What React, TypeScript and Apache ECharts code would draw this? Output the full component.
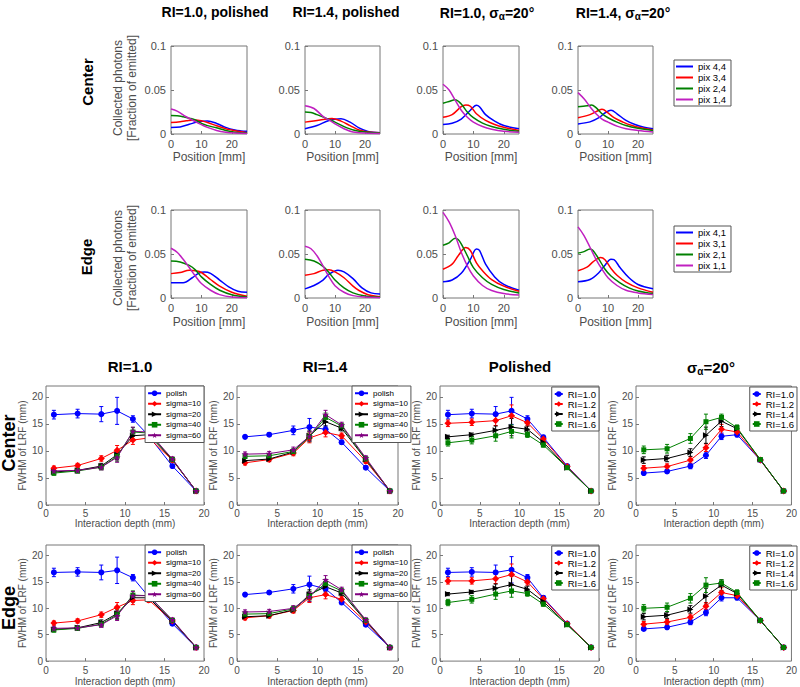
import React, { useEffect, useRef } from 'react';
import * as echarts from 'echarts';

// ---------- Top panels: collected photons vs position [mm] ----------
// Center row, RI=1.0 polished
const cA_b = [[0,0.0075],[3,0.008],[6,0.011],[9,0.014],[12,0.0147],[15,0.012],[18,0.0075],[21,0.0045],[23,0.0035],[25,0.003]];
const cA_r = [[0,0.013],[3,0.014],[5,0.015],[8,0.016],[10,0.015],[12,0.013],[15,0.0094],[18,0.006],[20,0.0045],[22,0.003],[25,0.0015]];
const cA_g = [[0,0.021],[2,0.0208],[4,0.0196],[6,0.018],[8,0.016],[10,0.012],[12,0.0095],[15,0.007],[18,0.004],[21,0.002],[25,0.001]];
const cA_m = [[0,0.0283],[2,0.026],[5,0.0196],[8,0.014],[10,0.0106],[12,0.0075],[15,0.004],[18,0.002],[21,0.001],[25,0.0005]];
// Center row, RI=1.4 polished
const cB_b = [[0,0.006],[4,0.0096],[8,0.0154],[12,0.0173],[15,0.0135],[18,0.007],[21,0.003],[25,0.0015]];
const cB_r = [[0,0.0135],[5,0.016],[9,0.0175],[12,0.0146],[15,0.0096],[18,0.0046],[22,0.002],[25,0.0015]];
const cB_g = [[0,0.025],[2,0.0245],[4,0.022],[8,0.0165],[10,0.0135],[14,0.007],[18,0.003],[25,0.001]];
const cB_m = [[0,0.032],[3,0.029],[6,0.02],[8,0.016],[10,0.0115],[13,0.006],[16,0.0023],[20,0.001],[25,0.0005]];
// Center row, RI=1.0 sigma=20
const cC_b = [[0,0.0108],[3,0.0123],[6,0.017],[9,0.027],[11,0.0327],[12,0.031],[14,0.022],[17,0.0146],[20,0.0096],[25,0.006]];
const cC_r = [[0,0.019],[3,0.022],[6,0.031],[7.5,0.033],[9,0.0315],[11,0.023],[14,0.0154],[17,0.0108],[20,0.0077],[25,0.004]];
const cC_g = [[0,0.035],[2,0.037],[4,0.039],[6,0.034],[8,0.025],[10,0.0185],[13,0.0123],[16,0.0085],[20,0.0054],[25,0.003]];
const cC_m = [[0,0.0565],[2,0.05],[4,0.0385],[6,0.027],[8,0.019],[10,0.0135],[13,0.0085],[16,0.0054],[20,0.003],[25,0.002]];
// Center row, RI=1.4 sigma=20
const cD_b = [[0,0.0115],[4,0.0138],[7,0.0185],[9,0.024],[11,0.027],[13,0.023],[16,0.0154],[19,0.0108],[22,0.0077],[25,0.006]];
const cD_r = [[0,0.0185],[4,0.022],[7,0.027],[8,0.028],[10,0.024],[12,0.0185],[15,0.0135],[18,0.0096],[21,0.007],[25,0.0046]];
const cD_g = [[0,0.031],[3,0.032],[4.5,0.033],[6,0.03],[8,0.023],[10,0.0185],[13,0.0135],[16,0.0096],[20,0.0065],[25,0.004]];
const cD_m = [[0,0.047],[2,0.04],[4,0.031],[6,0.023],[8,0.017],[10,0.0135],[13,0.009],[16,0.006],[20,0.004],[25,0.0023]];
// Edge row, RI=1.0 polished
const eA_b = [[0,0.0173],[4,0.0173],[7,0.023],[9,0.028],[11,0.0296],[13,0.028],[16,0.0204],[19,0.0127],[22,0.0077],[25,0.0065]];
const eA_r = [[0,0.0277],[3,0.029],[6,0.0315],[8,0.031],[10,0.029],[13,0.021],[16,0.0135],[20,0.0065],[25,0.002]];
const eA_g = [[0,0.042],[3,0.041],[6,0.037],[8,0.032],[10,0.024],[13,0.0154],[16,0.0088],[20,0.0038],[25,0.001]];
const eA_m = [[0,0.0565],[2,0.052],[4,0.044],[6,0.0346],[8,0.025],[10,0.0165],[13,0.0088],[16,0.0038],[20,0.001],[25,0.0004]];
// Edge row, RI=1.4 polished
const eB_b = [[0,0.0104],[3,0.0142],[6,0.0204],[8,0.027],[11,0.0315],[13,0.0296],[16,0.022],[19,0.0115],[22,0.0058],[25,0.0046]];
const eB_r = [[0,0.0258],[3,0.0277],[6,0.0315],[8,0.032],[10,0.0296],[13,0.023],[16,0.0135],[18,0.0085],[21,0.0038],[25,0.0015]];
const eB_g = [[0,0.044],[3,0.042],[6,0.036],[8,0.029],[10,0.0204],[13,0.0115],[16,0.0058],[20,0.0023],[25,0.0008]];
const eB_m = [[0,0.0588],[2,0.056],[4,0.048],[6,0.0365],[8,0.024],[10,0.014],[13,0.0065],[16,0.0027],[20,0.001],[25,0.0004]];
// Edge row, RI=1.0 sigma=20
const eC_b = [[0,0.0185],[3,0.0204],[6,0.028],[9,0.044],[11,0.0558],[12,0.054],[14,0.0385],[17,0.024],[20,0.0154],[25,0.0088]];
const eC_r = [[0,0.0327],[3,0.0385],[5,0.048],[7.5,0.0573],[9,0.054],[11,0.04],[13,0.031],[16,0.021],[20,0.0135],[25,0.0077]];
const eC_g = [[0,0.06],[2,0.0627],[4,0.068],[5,0.0665],[6,0.0615],[8,0.048],[10,0.0346],[13,0.023],[16,0.0154],[20,0.0096],[25,0.0058]];
const eC_m = [[0,0.0973],[2,0.0865],[4,0.071],[6,0.052],[8,0.0365],[10,0.025],[13,0.0142],[16,0.0085],[20,0.005],[25,0.0035]];
// Edge row, RI=1.4 sigma=20
const eD_b = [[0,0.0185],[4,0.021],[7,0.029],[9,0.0373],[11,0.044],[12,0.0435],[14,0.0346],[17,0.023],[20,0.0154],[25,0.0104]];
const eD_r = [[0,0.031],[3,0.035],[5,0.041],[7.5,0.046],[9,0.0435],[11,0.0335],[13,0.0258],[16,0.018],[20,0.0115],[25,0.0065]];
const eD_g = [[0,0.051],[2,0.0527],[4,0.0558],[5,0.054],[7,0.044],[9,0.0327],[11,0.025],[14,0.0173],[17,0.0115],[20,0.008],[25,0.005]];
const eD_m = [[0,0.0808],[2,0.071],[4,0.0577],[6,0.044],[8,0.0327],[10,0.023],[13,0.0142],[16,0.0088],[20,0.0058],[25,0.004]];

const centerNames = ['pix 4,4', 'pix 3,4', 'pix 2,4', 'pix 1,4'];
const edgeNames = ['pix 4,1', 'pix 3,1', 'pix 2,1', 'pix 1,1'];

// ---------- Bottom panels: FWHM of LRF vs interaction depth ----------
const depth = [1, 4, 7, 9, 11, 13, 16, 19];
const sigmaNames = ['polish', 'sigma=10', 'sigma=20', 'sigma=40', 'sigma=60'];
const riNames = ['RI=1.0', 'RI=1.2', 'RI=1.4', 'RI=1.6'];

// Center, RI=1.0
const cRI10_polish = [16.7, 16.9, 16.8, 17.4, 15.9, 12.8, 7.2, 2.6];
const cRI10_s10 = [6.8, 7.3, 8.6, 10.1, 12.0, 12.4, 8.3, 2.6];
const cRI10_s20 = [6.1, 6.4, 7.2, 9.3, 12.8, 13.0, 8.4, 2.6];
const cRI10_s40 = [5.9, 6.3, 7.0, 9.0, 13.5, 13.3, 8.4, 2.6];
const cRI10_s60 = [6.3, 6.4, 7.0, 8.8, 13.6, 13.5, 8.5, 2.6];
// Center, RI=1.4
const cRI14_polish = [12.6, 13.0, 13.8, 14.4, 14.0, 11.6, 6.9, 2.6];
const cRI14_s10 = [7.8, 8.4, 9.6, 12.4, 13.4, 12.8, 8.1, 2.6];
const cRI14_s20 = [8.2, 8.5, 9.8, 12.8, 15.4, 14.2, 8.4, 2.6];
const cRI14_s40 = [9.0, 9.1, 9.9, 12.6, 16.2, 14.6, 8.5, 2.6];
const cRI14_s60 = [9.4, 9.5, 10.2, 12.7, 16.7, 14.8, 8.7, 2.6];
// Center, Polished
const cPol_RI10 = [16.7, 16.9, 16.8, 17.4, 15.9, 12.5, 7.2, 2.6];
const cPol_RI12 = [15.1, 15.3, 15.6, 16.5, 15.2, 12.2, 7.1, 2.6];
const cPol_RI14 = [12.6, 13.0, 13.8, 14.4, 14.0, 11.6, 6.9, 2.6];
const cPol_RI16 = [11.5, 12.0, 12.8, 13.6, 13.0, 11.1, 6.9, 2.6];
// Center, sigma=20
const cSig_RI10 = [5.9, 6.2, 7.2, 9.2, 12.7, 13.0, 8.3, 2.6];
const cSig_RI12 = [6.8, 7.1, 8.3, 10.6, 14.0, 13.5, 8.3, 2.6];
const cSig_RI14 = [8.3, 8.6, 9.7, 12.9, 15.5, 14.1, 8.4, 2.6];
const cSig_RI16 = [10.2, 10.4, 12.3, 15.4, 16.2, 14.3, 8.4, 2.6];
// Edge, RI=1.0
const eRI10_polish = [16.8, 16.9, 16.8, 17.2, 15.8, 12.2, 7.1, 2.6];
const eRI10_s10 = [7.2, 7.6, 8.8, 10.2, 11.5, 11.6, 7.6, 2.6];
const eRI10_s20 = [6.0, 6.3, 7.3, 9.0, 12.0, 12.0, 7.6, 2.6];
const eRI10_s40 = [5.9, 6.2, 7.0, 8.8, 12.5, 12.4, 7.7, 2.6];
const eRI10_s60 = [6.2, 6.3, 6.9, 8.6, 12.4, 12.4, 7.8, 2.6];
// Edge, RI=1.4
const eRI14_polish = [12.6, 13.0, 13.7, 14.5, 13.7, 11.1, 6.9, 2.6];
const eRI14_s10 = [8.2, 8.6, 9.6, 12.0, 12.6, 11.7, 7.4, 2.6];
const eRI14_s20 = [8.4, 8.6, 9.7, 12.6, 14.1, 12.9, 7.6, 2.6];
const eRI14_s40 = [8.9, 9.0, 9.9, 12.3, 14.7, 13.3, 7.7, 2.6];
const eRI14_s60 = [9.3, 9.4, 10.0, 12.2, 15.4, 13.5, 7.8, 2.6];
// Edge, Polished
const ePol_RI10 = [16.8, 16.9, 16.8, 17.3, 15.8, 12.0, 7.1, 2.6];
const ePol_RI12 = [15.2, 15.2, 15.6, 16.4, 15.0, 11.8, 7.1, 2.6];
const ePol_RI14 = [12.7, 13.1, 13.8, 14.5, 13.6, 11.3, 6.9, 2.6];
const ePol_RI16 = [11.1, 11.7, 12.7, 13.3, 12.8, 10.8, 6.9, 2.6];
// Edge, sigma=20
const eSig_RI10 = [6.1, 6.4, 7.4, 9.2, 12.0, 12.0, 7.7, 2.6];
const eSig_RI12 = [7.0, 7.4, 8.3, 10.4, 13.0, 12.4, 7.7, 2.6];
const eSig_RI14 = [8.4, 8.7, 9.8, 12.3, 14.4, 12.8, 7.7, 2.6];
const eSig_RI16 = [10.0, 10.2, 11.9, 14.4, 14.8, 13.0, 7.7, 2.6];

// error bar half-lengths
const errPolRI10 = [0.8, 0.8, 1.4, 2.5, 0.6, 0.4, 0.3, 0.2];
const errPolRI12 = [0.6, 0.6, 0.9, 2.0, 0.6, 0.4, 0.3, 0.2];
const errPolRI14 = [0.3, 0.3, 0.8, 1.6, 0.6, 0.4, 0.3, 0.2];
const errPolRI16 = [0.6, 0.7, 1.0, 1.2, 0.5, 0.4, 0.3, 0.2];
const errSigma = [0.4, 0.4, 0.5, 0.9, 0.8, 0.5, 0.4, 0.2];
const errSigRI10 = [0.3, 0.3, 0.5, 0.6, 0.6, 0.4, 0.3, 0.2];
const errSigRI12 = [0.5, 0.5, 0.6, 0.7, 0.9, 0.5, 0.3, 0.2];
const errSigRI14 = [0.6, 0.6, 0.7, 1.5, 1.0, 0.6, 0.3, 0.2];
const errSigRI16 = [0.7, 0.8, 0.9, 1.4, 0.6, 0.5, 0.3, 0.2];

const FONT = 'Liberation Sans, Arial, Helvetica, sans-serif';
const AX = '#777777';
const LBL = '#4d4d4d';
const BLUE = '#0000ff', RED = '#ff0000', GREEN = '#008000', BLACK = '#000000', PURPLE = '#800080', MAG = '#c020c0';
const STAR = 'path://M50,0L61.8,35.5L99,35.5L69,57.5L80.5,93L50,71L19.5,93L31,57.5L1,35.5L38.2,35.5Z';
const TRI_R = 'path://M0,0L10,5L0,10Z';

export default function App() {
  const ref = useRef<HTMLDivElement>(null);
  useEffect(() => {
    document.body.style.margin = '0';
    const chart = echarts.init(ref.current!, null, { renderer: 'svg' });
    const grids: any[] = [], xAxes: any[] = [], yAxes: any[] = [], series: any[] = [], legends: any[] = [];

    // ---- top panels ----
    const topCols = [[171, 76], [305, 75], [443, 76], [578, 75]];
    const topRows = [46, 210];
    const topData = [
      [[cA_b, cA_r, cA_g, cA_m], [cB_b, cB_r, cB_g, cB_m], [cC_b, cC_r, cC_g, cC_m], [cD_b, cD_r, cD_g, cD_m]],
      [[eA_b, eA_r, eA_g, eA_m], [eB_b, eB_r, eB_g, eB_m], [eC_b, eC_r, eC_g, eC_m], [eD_b, eD_r, eD_g, eD_m]],
    ];
    const topColors = [BLUE, RED, GREEN, MAG];
    topRows.forEach((rt, r) => {
      topCols.forEach(([l, w], c) => {
        grids.push({ left: l, top: rt, width: w, height: 88, show: true, borderColor: AX, borderWidth: 1 });
        const gi = grids.length - 1;
        xAxes.push({
          gridIndex: gi, type: 'value', min: 0, max: 25, interval: 10,
          axisLine: { show: false }, splitLine: { show: false },
          axisTick: { inside: true, length: 3, lineStyle: { color: AX } },
          axisLabel: { fontSize: 11, color: LBL, margin: 4, fontFamily: FONT, showMaxLabel: false },
          name: 'Position [mm]', nameLocation: 'middle', nameGap: r === 0 ? 17 : 18,
          nameTextStyle: { fontSize: 12, color: LBL, fontFamily: FONT },
        });
        yAxes.push({
          gridIndex: gi, type: 'value', min: 0, max: 0.1, interval: 0.05,
          axisLine: { show: false }, splitLine: { show: false },
          axisTick: { inside: true, length: 3, lineStyle: { color: AX } },
          axisLabel: { fontSize: 11, color: LBL, margin: 5, fontFamily: FONT, formatter: (v: number) => (v === 0 ? '0' : String(+v.toFixed(2))) },
        });
        const names = r === 0 ? centerNames : edgeNames;
        topData[r][c].forEach((d, k) => {
          series.push({
            type: 'line', name: names[k], xAxisIndex: gi, yAxisIndex: gi, data: d,
            smooth: 0.35, showSymbol: false, symbol: 'none',
            lineStyle: { color: topColors[k], width: 1.5 }, itemStyle: { color: topColors[k] },
          });
        });
      });
      legends.push({
        data: r === 0 ? centerNames : edgeNames, orient: 'vertical', left: 674, top: r === 0 ? 60 : 226,
        icon: 'rect', itemWidth: 17, itemHeight: 2, itemGap: 0, selectedMode: false,
        textStyle: { fontSize: 9.5, lineHeight: 11, color: '#000', fontFamily: FONT },
        padding: [1, 5, 1, 2], borderColor: '#555', borderWidth: 1, backgroundColor: '#fff',
      });
    });

    // ---- bottom panels ----
    const botCols = [[46, 158], [237, 161], [440, 159], [636, 161]];
    const botRows = [[386, 119], [545, 118]];
    const sigmaStyles = [
      { color: BLUE, symbol: 'circle', size: 6 },
      { color: RED, symbol: 'diamond', size: 7 },
      { color: BLACK, symbol: TRI_R, size: 6 },
      { color: GREEN, symbol: 'rect', size: 5 },
      { color: PURPLE, symbol: STAR, size: 7 },
    ];
    const riStyles = sigmaStyles.slice(0, 4);
    const botData = [
      [
        { names: sigmaNames, styles: sigmaStyles, vals: [cRI10_polish, cRI10_s10, cRI10_s20, cRI10_s40, cRI10_s60], errs: [errPolRI10, errSigma, errSigma, errSigma, errSigma] },
        { names: sigmaNames, styles: sigmaStyles, vals: [cRI14_polish, cRI14_s10, cRI14_s20, cRI14_s40, cRI14_s60], errs: [errPolRI14, errSigma, errSigma, errSigma, errSigma] },
        { names: riNames, styles: riStyles, vals: [cPol_RI10, cPol_RI12, cPol_RI14, cPol_RI16], errs: [errPolRI10, errPolRI12, errPolRI14, errPolRI16] },
        { names: riNames, styles: riStyles, vals: [cSig_RI10, cSig_RI12, cSig_RI14, cSig_RI16], errs: [errSigRI10, errSigRI12, errSigRI14, errSigRI16] },
      ],
      [
        { names: sigmaNames, styles: sigmaStyles, vals: [eRI10_polish, eRI10_s10, eRI10_s20, eRI10_s40, eRI10_s60], errs: [errPolRI10, errSigma, errSigma, errSigma, errSigma] },
        { names: sigmaNames, styles: sigmaStyles, vals: [eRI14_polish, eRI14_s10, eRI14_s20, eRI14_s40, eRI14_s60], errs: [errPolRI14, errSigma, errSigma, errSigma, errSigma] },
        { names: riNames, styles: riStyles, vals: [ePol_RI10, ePol_RI12, ePol_RI14, ePol_RI16], errs: [errPolRI10, errPolRI12, errPolRI14, errPolRI16] },
        { names: riNames, styles: riStyles, vals: [eSig_RI10, eSig_RI12, eSig_RI14, eSig_RI16], errs: [errSigRI10, errSigRI12, errSigRI14, errSigRI16] },
      ],
    ];
    botRows.forEach(([rt, rh], r) => {
      botCols.forEach(([l, w], c) => {
        grids.push({ left: l, top: rt, width: w, height: rh, show: true, borderColor: AX, borderWidth: 1 });
        const gi = grids.length - 1;
        xAxes.push({
          gridIndex: gi, type: 'value', min: 0, max: 20, interval: 5,
          axisLine: { show: false }, splitLine: { show: false },
          axisTick: { inside: true, length: 3, lineStyle: { color: AX } },
          axisLabel: { fontSize: 10, color: LBL, margin: r === 0 ? 3 : 4, fontFamily: FONT },
          name: 'Interaction depth (mm)', nameLocation: 'middle', nameGap: r === 0 ? 11 : 14,
          nameTextStyle: { fontSize: 10, color: LBL, fontFamily: FONT },
        });
        yAxes.push({
          gridIndex: gi, type: 'value', min: 0, max: 22, interval: 5,
          axisLine: { show: false }, splitLine: { show: false },
          axisTick: { inside: true, length: 3, lineStyle: { color: AX } },
          axisLabel: { fontSize: 10, color: LBL, margin: 3, fontFamily: FONT, showMaxLabel: false },
          name: 'FWHM of LRF (mm)', nameLocation: 'middle', nameGap: 13,
          nameTextStyle: { fontSize: 10, color: LBL, fontFamily: FONT },
        });
        const p = botData[r][c];
        p.vals.forEach((v, k) => {
          const st = p.styles[k];
          const e = p.errs[k];
          const color = st.color;
          series.push({
            type: 'custom', xAxisIndex: gi, yAxisIndex: gi, silent: true, z: 2,
            data: depth.map((d, i) => [d, v[i] - e[i], v[i] + e[i]]),
            encode: { x: 0, y: [1, 2] },
            renderItem: (params: any, api: any) => {
              const x = api.value(0);
              const p1 = api.coord([x, api.value(1)]);
              const p2 = api.coord([x, api.value(2)]);
              const cw = 2;
              const s = { stroke: color, lineWidth: 1 };
              return {
                type: 'group', children: [
                  { type: 'line', shape: { x1: p1[0], y1: p1[1], x2: p2[0], y2: p2[1] }, style: s },
                  { type: 'line', shape: { x1: p1[0] - cw, y1: p1[1], x2: p1[0] + cw, y2: p1[1] }, style: s },
                  { type: 'line', shape: { x1: p2[0] - cw, y1: p2[1], x2: p2[0] + cw, y2: p2[1] }, style: s },
                ],
              };
            },
          });
          series.push({
            type: 'line', name: p.names[k], xAxisIndex: gi, yAxisIndex: gi, z: 3,
            data: depth.map((d, i) => [d, v[i]]),
            symbol: st.symbol, symbolSize: st.size, showSymbol: true,
            lineStyle: { color, width: 1 }, itemStyle: { color },
          });
        });
        const isSigma = c < 2;
        const leg: any = {
          data: p.names, orient: 'vertical', top: rt + (isSigma ? 0 : 1), selectedMode: false,
          itemWidth: isSigma ? 13 : 8, itemHeight: 7, itemGap: 0,
          textStyle: { fontSize: isSigma ? 8 : 9.5, lineHeight: isSigma ? 10.5 : 9.5, color: '#000', fontFamily: FONT },
          padding: [2, 3, 2, 2], borderColor: '#555', borderWidth: 1, backgroundColor: '#fff',
        };
        if (c === 1) leg.left = 352; else leg.right = 800 - (l + w);
        legends.push(leg);
      });
    });

    // ---- texts ----
    const txt = (x: number, y: number, text: string, size: number, bold = true, rot = 0, rich?: any, color = '#000', lh?: number) => ({
      type: 'text', x, y, rotation: rot, silent: true,
      style: { text, fontSize: size, fontWeight: bold ? 'bold' : 'normal', fontFamily: FONT, fill: color, align: 'center', verticalAlign: 'middle', rich, lineHeight: lh },
    });
    const sigRich = (size: number) => ({
      m: { fontSize: size, fontWeight: 'bold', fontFamily: FONT, fill: '#000' },
      s: { fontSize: Math.round(size * 0.68), fontWeight: 'bold', fontFamily: FONT, fill: '#000', padding: [Math.round(size * 0.5), 0, 0, 0] },
    });
    const graphic = [
      txt(215, 12, 'RI=1.0, polished', 14),
      txt(346, 12, 'RI=1.4, polished', 14),
      txt(487, 13, '{m|RI=1.0, σ}{s|α}{m|=20°}', 14, true, 0, sigRich(14)),
      txt(623, 13, '{m|RI=1.4, σ}{s|α}{m|=20°}', 14, true, 0, sigRich(14)),
      txt(87, 82, 'Center', 15, true, Math.PI / 2),
      txt(86, 257, 'Edge', 15, true, Math.PI / 2),
      txt(125, 88, 'Collected photons\n[Fraction of emitted]', 12, false, Math.PI / 2, undefined, LBL, 14),
      txt(125, 258, 'Collected photons\n[Fraction of emitted]', 12, false, Math.PI / 2, undefined, LBL, 14),
      txt(130, 366, 'RI=1.0', 15),
      txt(325, 366, 'RI=1.4', 15),
      txt(520, 366, 'Polished', 15),
      txt(711, 367, '{m|σ}{s|α}{m|=20°}', 15, true, 0, sigRich(15)),
      txt(9, 443, 'Center', 18, true, Math.PI / 2),
      txt(9, 608, 'Edge', 18, true, Math.PI / 2),
    ];

    chart.setOption({
      animation: false,
      textStyle: { fontFamily: FONT },
      grid: grids, xAxis: xAxes, yAxis: yAxes, series, legend: legends, graphic,
    });
    return () => chart.dispose();
  }, []);
  return <div ref={ref} style={{ width: 800, height: 687 }} />;
}
